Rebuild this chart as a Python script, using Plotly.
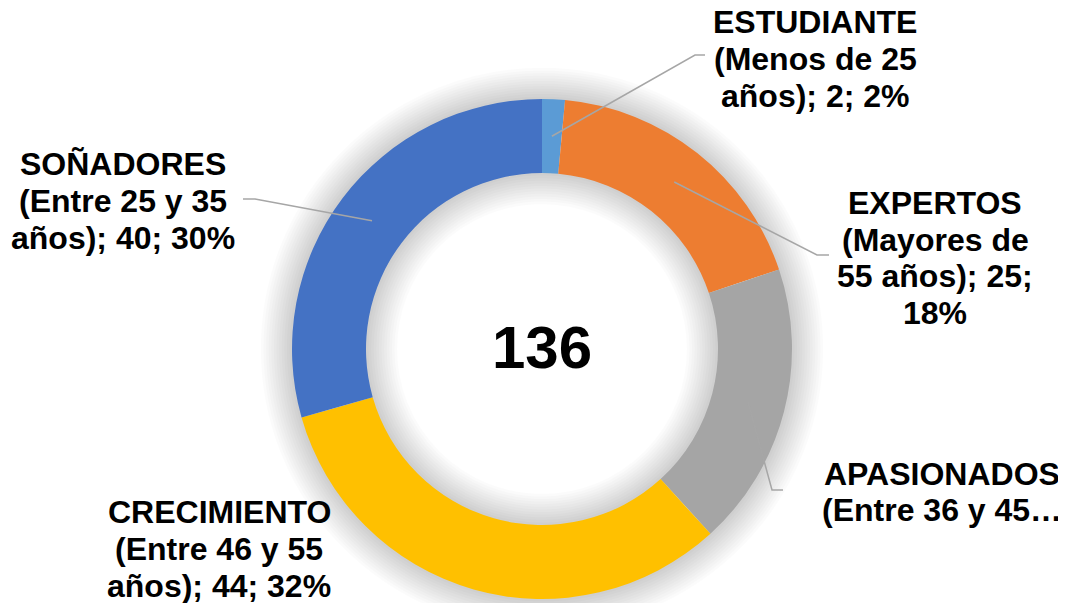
import math
import plotly.graph_objects as go

# ---- data ----
categories = ["ESTUDIANTE", "EXPERTOS", "APASIONADOS", "CRECIMIENTO", "SOÑADORES"]
values = [2, 25, 25, 44, 40]
colors = ["#5B9BD5", "#ED7D31", "#A5A5A5", "#FFC000", "#4472C4"]
label_lines = [
    ["ESTUDIANTE", "(Menos de 25", "años); 2; 2%"],
    ["EXPERTOS", "(Mayores de", "55 años); 25;", "18%"],
    ["APASIONADOS", "(Entre 36 y 45…"],
    ["CRECIMIENTO", "(Entre 46 y 55", "años); 44; 32%"],
    ["SOÑADORES", "(Entre 25 y 35", "años); 40; 30%"],
]
total_label = str(sum(values))

# ---- layout (page pixels) ----
OFF = 8  # page body margin
W, H = 1066 - OFF, 603 - OFF
CX, CY = 542, 349
R_OUT, R_IN = 250, 176
R_LEADER = 213
label_centers = [(815, 58), (935, 257), (942, 491), (219, 548), (123, 200)]
LINE_STEP = 36.8
leader_kinks = [
    [(695, 55), (705, 55)],
    [(817, 255), (829, 255)],
    [(772, 490), (783, 490)],
    None,
    [(255, 199), (243, 199)],
]
FONT = "Liberation Sans, Arial, sans-serif"


def px(x):
    return (x - OFF) / W


def py(y):
    return 1 - (y - OFF) / H


def ring_domain(r):
    return dict(x=[px(CX - r), px(CX + r)], y=[max(py(CY + r), 0), min(py(CY - r), 1)])


fig = go.Figure()

# soft shadow: stacked translucent strokes around the ring
n_sh = 12
for k in range(n_sh, 0, -1):
    fig.add_trace(go.Pie(
        values=[1], domain=ring_domain(R_OUT), hole=R_IN / R_OUT,
        marker=dict(colors=["rgba(0,0,0,0)"],
                    line=dict(width=2 * k * 2.6, color="rgba(0,0,0,0.015)")),
        textinfo="none", hoverinfo="skip", showlegend=False, sort=False,
    ))

fig.add_trace(go.Pie(
    labels=categories, values=values, domain=ring_domain(R_OUT), hole=R_IN / R_OUT,
    marker=dict(colors=colors, line=dict(width=0)),
    direction="clockwise", sort=False, rotation=0,
    textinfo="none", showlegend=False,
))

annotations = []
shapes = []
total = sum(values)
cum = 0
for i, v in enumerate(values):
    mid = (cum + v / 2) / total * 2 * math.pi
    cum += v
    ax = CX + R_LEADER * math.sin(mid)
    ay = CY - R_LEADER * math.cos(mid)
    kinks = leader_kinks[i]
    if kinks:
        pts = [(ax, ay)] + kinks
        path = "M " + " L ".join(f"{px(x)},{py(y)}" for x, y in pts)
        shapes.append(dict(type="path", path=path, xref="paper", yref="paper",
                           line=dict(color="#A6A6A6", width=1.5), layer="above"))
    lx, ly = label_centers[i]
    lines = label_lines[i]
    n = len(lines)
    for j, t in enumerate(lines):
        yy = ly + (j - (n - 1) / 2) * LINE_STEP + 1
        annotations.append(dict(
            text=f"<b>{t}</b>", x=px(lx), y=py(yy), xref="paper", yref="paper",
            xanchor="center", yanchor="middle", showarrow=False,
            font=dict(family=FONT, size=32, color="#000000"),
        ))

annotations.append(dict(
    text=f"<b>{total_label}</b>", x=px(541.5), y=py(347.5), xref="paper", yref="paper",
    xanchor="center", yanchor="middle", showarrow=False,
    font=dict(family=FONT, size=60, color="#000000"),
))

fig.update_layout(
    width=W, height=H, margin=dict(l=0, r=0, t=0, b=0),
    paper_bgcolor="white", plot_bgcolor="white",
    annotations=annotations, shapes=shapes, showlegend=False,
)

fig.write_html("out.html")
